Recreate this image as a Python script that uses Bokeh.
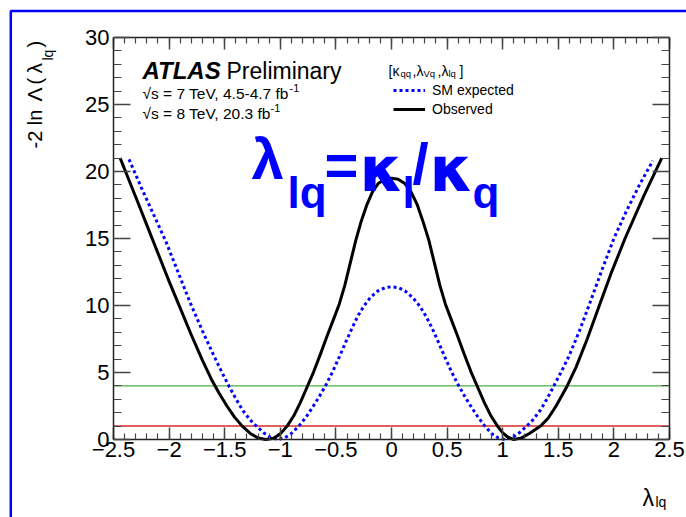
import math
from bokeh.plotting import figure
from bokeh.models import (Range1d, LinearAxis, SingleIntervalTicker, Label,
                          Legend, LegendItem, BoxAnnotation)
from bokeh.embed import file_html
from bokeh.resources import INLINE

# ---------------- data ----------------
obs_x = [-2.44, -2.30, -2.20, -2.10, -2.00, -1.90, -1.80, -1.70, -1.62, -1.55, -1.48, -1.41,
         -1.34, -1.27, -1.20, -1.13, -1.06, -1.00, -0.94, -0.88, -0.82, -0.76, -0.70, -0.64,
         -0.58, -0.52, -0.47, -0.42, -0.37, -0.32, -0.27, -0.22, -0.17, -0.12, -0.06, 0.0,
         0.06, 0.12, 0.175, 0.23, 0.28, 0.335, 0.385, 0.435, 0.485, 0.535, 0.595, 0.655,
         0.715, 0.775, 0.835, 0.895, 0.955, 1.00, 1.05, 1.10, 1.17, 1.24, 1.34, 1.41, 1.48,
         1.58, 1.66, 1.76, 1.86, 1.97, 2.10, 2.27, 2.43]
obs_y = [21.0, 18.1, 16.0, 13.9, 11.8, 9.8, 7.8, 5.9, 4.5, 3.45, 2.5, 1.65,
         0.98, 0.45, 0.11, 0.0, 0.1, 0.42, 0.98, 1.75, 2.75, 3.9, 5.05, 6.35,
         7.7, 9.0, 10.1, 11.5, 13.2, 14.9, 16.35, 17.55, 18.5, 19.1, 19.42, 19.5,
         19.42, 19.1, 18.5, 17.55, 16.35, 14.9, 13.2, 11.5, 10.1, 9.0, 7.7, 6.35,
         5.05, 3.9, 2.75, 1.75, 0.98, 0.5, 0.15, 0.0, 0.12, 0.45, 1.0, 1.6, 2.5,
         4.0, 5.4, 7.5, 9.8, 12.3, 15.0, 18.2, 21.0]

exp_x = [-2.36, -2.25, -2.14, -2.03, -1.92, -1.81, -1.70, -1.60, -1.53, -1.463, -1.40, -1.34,
         -1.27, -1.208, -1.15, -1.09, -1.02, -0.96, -0.90, -0.834, -0.77, -0.71, -0.65, -0.594,
         -0.53, -0.47, -0.41, -0.35, -0.30, -0.249, -0.19, -0.12, -0.06, 0.0,
         0.06, 0.12, 0.19, 0.255, 0.31, 0.36, 0.42, 0.48, 0.54, 0.605, 0.66, 0.72, 0.78,
         0.84, 0.90, 0.96, 1.02, 1.09, 1.15, 1.21, 1.27, 1.34, 1.40, 1.46, 1.53, 1.60,
         1.69, 1.78, 1.89, 2.00, 2.11, 2.23, 2.35]
exp_y = [20.9, 18.8, 16.8, 14.8, 12.5, 10.2, 8.1, 6.3, 5.1, 4.0, 3.05, 2.2,
         1.45, 0.95, 0.5, 0.17, 0.0, 0.12, 0.45, 1.0, 1.65, 2.4, 3.2, 4.0,
         5.05, 6.15, 7.3, 8.4, 9.25, 9.95, 10.6, 11.1, 11.33, 11.4,
         11.33, 11.1, 10.6, 9.95, 9.2, 8.4, 7.3, 6.15, 5.05, 4.0, 3.2, 2.4, 1.65,
         1.0, 0.45, 0.12, 0.0, 0.17, 0.5, 0.95, 1.45, 2.2, 3.05, 4.0, 5.1, 6.3,
         8.1, 10.1, 12.6, 15.0, 17.0, 19.0, 20.8]

ref_levels = [1.0, 4.0]   # horizontal reference lines
ref_x = [-2.5, 2.5]

xtick_vals = [-2.5, -2.0, -1.5, -1.0, -0.5, 0.0, 0.5, 1.0, 1.5, 2.0, 2.5]
xtick_labels = ["\u22122.5", "\u22122", "\u22121.5", "\u22121", "\u22120.5", "0",
                "0.5", "1", "1.5", "2", "2.5"]
ytick_vals = [0, 5, 10, 15, 20, 25, 30]
ytick_labels = ["0", "5", "10", "15", "20", "25", "30"]

series_names = ["SM expected", "Observed"]

# ---------------- layout constants ----------------
W, H = 686, 517
PL, PR, PT, PB = 113, 669, 37, 439          # plot box edges on the canvas (px)
X0, X1, Y0, Y1 = -2.5, 2.5, 0.0, 30.0
sx = (PR - PL) / (X1 - X0)
sy = (PB - PT) / (Y1 - Y0)
FONT = "Liberation Sans"

p = figure(width=W, height=H,
           x_range=Range1d(X0 - PL / sx, X1 + (W - PR) / sx),
           y_range=Range1d(Y0 - (H - PB) / sy, Y1 + PT / sy),
           output_backend="svg", toolbar_location=None,
           x_axis_type=None, y_axis_type=None, min_border=0)
p.outline_line_color = None
p.background_fill_color = "white"
p.border_fill_color = "white"


def make_axis(ticker, loc, bounds, major_in, minor_in, labels=None):
    ax = LinearAxis(ticker=ticker, fixed_location=loc, bounds=bounds)
    ax.major_tick_in = major_in
    ax.major_tick_out = 0
    ax.minor_tick_in = minor_in
    ax.minor_tick_out = 0
    ax.axis_line_color = "#222222"
    ax.axis_line_width = 1.5
    ax.major_tick_line_color = "#444444"
    ax.major_tick_line_width = 1.5
    ax.minor_tick_line_color = "#444444"
    ax.minor_tick_line_width = 1.2
    if labels is None:
        ax.major_label_text_color = None
    else:
        ax.major_label_overrides = labels
        ax.major_label_text_font = FONT
        ax.major_label_text_font_size = "22px"
        ax.major_label_text_color = "black"
    return ax


xlab = {float(v): t for v, t in zip(xtick_vals, xtick_labels)}
ylab = {float(v): t for v, t in zip(ytick_vals, ytick_labels)}

bx = make_axis(SingleIntervalTicker(interval=0.5, num_minor_ticks=5), Y0, (X0, X1), 12, 6, xlab)
bx.major_label_standoff = 2
tx = make_axis(SingleIntervalTicker(interval=0.5, num_minor_ticks=5), Y1, (X0, X1), 12, 6)
ly = make_axis(SingleIntervalTicker(interval=5, num_minor_ticks=5), X0, (Y0, Y1), 17, 8, ylab)
ly.major_label_standoff = 4
ry = make_axis(SingleIntervalTicker(interval=5, num_minor_ticks=5), X1, (Y0, Y1), 17, 8)
p.add_layout(bx, "below")
p.add_layout(tx, "above")
p.add_layout(ly, "left")
p.add_layout(ry, "right")

# reference levels
p.line(ref_x, [ref_levels[1]] * 2, line_color="#1a991a", line_width=1)
p.line(ref_x, [ref_levels[0]] * 2, line_color="#e06060", line_width=2)

# curves
r_exp = p.line(exp_x, exp_y, line_color="#0000ff", line_width=3, line_dash="3 3")
r_obs = p.line(obs_x, obs_y, line_color="black", line_width=3, line_join="round")

# legend
leg = Legend(items=[LegendItem(label=series_names[0], renderers=[r_exp]),
                    LegendItem(label=series_names[1], renderers=[r_obs])],
             location=(393, H - 117), padding=0, margin=0, spacing=3,
             glyph_width=32, glyph_height=16, label_height=16, label_standoff=7,
             label_text_font=FONT, label_text_font_size="14px", label_text_color="black",
             border_line_color=None, background_fill_alpha=0)
p.add_layout(leg)


def lab(text, cx, cy, size, color="black", style="normal", angle=0.0, font=FONT):
    p.add_layout(Label(x=cx, y=H - cy, x_units="screen", y_units="screen", text=text,
                       text_font=font, text_font_size=f"{size}px", text_color=color,
                       text_font_style=style, text_baseline="alphabetic", text_align="left",
                       angle=angle))


# y-axis title (rotated)
A = math.pi / 2
lab("-2 ln", 34, 148, 20, angle=A)
lab("\u039b", 34, 101, 21, angle=A)
lab("(", 34, 84, 20, angle=A)
lab("\u03bb", 34, 73, 21, angle=A)
lab("lq", 47, 60, 14, angle=A)
lab(")", 34, 47, 20, angle=A)

# x-axis title
lab("\u03bb", 642, 497, 23)
lab("lq", 655, 501, 14)

# ATLAS label
lab("ATLAS", 142, 70, 24, style="bold italic")
lab("Preliminary", 226, 70, 23)
lab("\u221as = 7 TeV, 4.5-4.7 fb", 142, 93, 15.5)
lab("-1", 289, 87, 11)
lab("\u221as = 8 TeV, 20.3 fb", 142, 113, 15.5)
lab("-1", 270, 107, 11)

# legend header [kqq, lVq, llq]
lab("[\u03ba", 388, 70, 14)
lab("qq", 400, 73, 9.5)
lab(",\u03bb", 412, 70, 14)
lab("Vq", 423, 73, 9.5)
lab(",\u03bb", 437, 70, 14)
lab("lq", 448, 73, 9.5)
lab("]", 459, 70, 14)

# big formula
BL = "#0000ff"
lab("\u03bb", 251, 158, 58, BL, "bold")
lab("lq", 287, 192, 44, BL, "bold")
lab("=", 324, 164, 58, BL, "bold")
lab("\u03ba", 359, 169, 62, BL, "bold", font="DejaVu Sans")
lab("l", 402, 192, 44, BL, "bold")
lab("/", 412, 163, 58, BL, "bold")
lab("\u03ba", 429, 169, 62, BL, "bold", font="DejaVu Sans")
lab("q", 472, 192, 44, BL, "bold")

# slide frame
p.add_layout(BoxAnnotation(left=10.3, right=W + 50, top=H - 10.5, bottom=-50,
                           left_units="screen", right_units="screen",
                           top_units="screen", bottom_units="screen",
                           fill_alpha=0, line_alpha=1.0, line_color="#0000ff",
                           line_width=2.5))

open("out.html", "w").write(file_html(p, INLINE))
